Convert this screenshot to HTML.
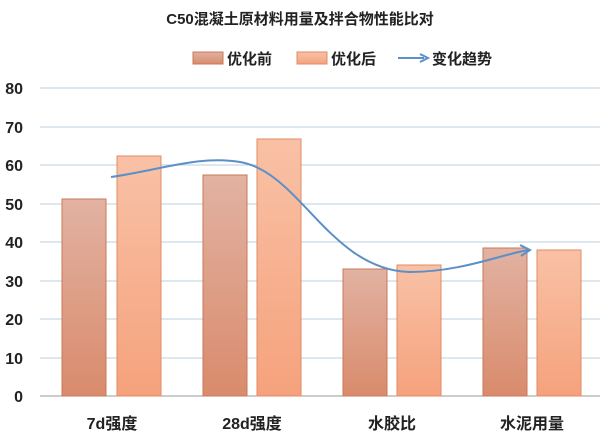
<!DOCTYPE html><html><head><meta charset="utf-8"><style>body{margin:0;background:#fff}svg{display:block}text{font-family:"Liberation Sans","Noto Sans CJK SC",sans-serif;font-weight:bold;fill:#222}</style></head><body>
<svg width="600" height="438" viewBox="0 0 600 438">
<defs>
<linearGradient id="a" x1="0" y1="0" x2="0" y2="1"><stop offset="0" stop-color="#e2b2a2"/><stop offset="1" stop-color="#d98b6c"/></linearGradient>
<linearGradient id="b" x1="0" y1="0" x2="0" y2="1"><stop offset="0" stop-color="#f9c1a6"/><stop offset="1" stop-color="#f5a27c"/></linearGradient>
</defs>
<text x="300" y="24" font-size="15" text-anchor="middle">C50混凝土原材料用量及拌合物性能比对</text>
<rect x="193" y="52" width="30" height="12" fill="url(#a)" stroke="#c8785a"/>
<text x="227" y="64" font-size="15">优化前</text>
<rect x="297" y="52" width="30" height="12" fill="url(#b)" stroke="#e08c66"/>
<text x="331" y="64" font-size="15">优化后</text>
<line x1="398" y1="58" x2="424" y2="58" stroke="#5b8fc7" stroke-width="2"/><path d="M420 54 L428 58 L420 62" fill="none" stroke="#5b8fc7" stroke-width="2"/>
<text x="432" y="64" font-size="15">变化趋势</text>
<g stroke="#b8cfe2" stroke-width="1">
<line x1="40" y1="88" x2="600" y2="88"/><line x1="40" y1="127" x2="600" y2="127"/><line x1="40" y1="165" x2="600" y2="165"/><line x1="40" y1="204" x2="600" y2="204"/><line x1="40" y1="242" x2="600" y2="242"/><line x1="40" y1="281" x2="600" y2="281"/><line x1="40" y1="319" x2="600" y2="319"/><line x1="40" y1="358" x2="600" y2="358"/></g>
<line x1="40" y1="396" x2="600" y2="396" stroke="#999"/>
<g font-size="16" text-anchor="end">
<text x="23" y="94">80</text><text x="23" y="133">70</text><text x="23" y="171">60</text><text x="23" y="210">50</text><text x="23" y="248">40</text><text x="23" y="287">30</text><text x="23" y="325">20</text><text x="23" y="364">10</text><text x="23" y="402">0</text></g>
<g stroke="#c8785a" fill="url(#a)">
<rect x="62" y="199" width="44" height="197"/><rect x="203" y="175" width="44" height="221"/><rect x="343" y="269" width="44" height="127"/><rect x="483" y="248" width="44" height="148"/></g>
<g stroke="#e08c66" fill="url(#b)">
<rect x="117" y="156" width="44" height="240"/><rect x="257" y="139" width="44" height="257"/><rect x="397" y="265" width="44" height="131"/><rect x="537" y="250" width="44" height="146"/></g>
<path d="M111 177 C160 170 200 155 240 162 C300 172 330 270 410 272 C460 272 500 255 528 250" fill="none" stroke="#5b8fc7" stroke-width="2"/>
<path d="M520 245 L530 250 L521 256" fill="none" stroke="#5b8fc7" stroke-width="2"/>
<g font-size="16" text-anchor="middle">
<text x="112" y="429">7d强度</text><text x="252" y="429">28d强度</text><text x="392" y="429">水胶比</text><text x="532" y="429">水泥用量</text></g>
</svg></body></html>
